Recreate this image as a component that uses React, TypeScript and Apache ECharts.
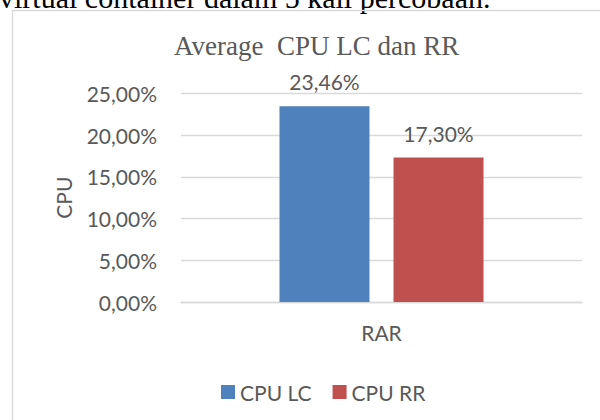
import React, { useEffect, useRef } from "react";
import * as echarts from "echarts";

const categories = ["RAR"];
const seriesNames = ["CPU LC", "CPU RR"];
const cpuLC = [23.46];
const cpuRR = [17.3];
const yMin = 0;
const yMax = 25;
const yInterval = 5;

const FONT = "Lato";
const GRAY = "#595959";
const GRID = "#D9D9D9";

const fmt = (v: number) => v.toFixed(2).replace(".", ",") + "%";

export default function App() {
  const ref = useRef<HTMLDivElement>(null);
  useEffect(() => {
    if (!ref.current) return;
    const chart = echarts.init(ref.current, undefined, { renderer: "svg" });
    chart.setOption({
      animation: false,
      backgroundColor: "#ffffff",
      textStyle: { fontFamily: FONT },
      graphic: [
        {
          type: "text",
          x: -1,
          y: -3,
          style: {
            text: "virtual container dalam 5 kali percobaan.",
            font: "30px 'Liberation Serif'",
            fill: "#000000",
            verticalAlign: "middle",
            align: "left",
          },
        },
        {
          type: "rect",
          shape: { x: 12.5, y: 10.5, width: 700, height: 500 },
          style: { fill: "none", stroke: GRID, lineWidth: 1.3 },
          silent: true,
        },
        {
          type: "text",
          x: 316.7,
          y: 46,
          style: {
            text: "Average  CPU LC dan RR",
            font: "27px 'Liberation Serif'",
            fill: GRAY,
            verticalAlign: "middle",
            align: "center",
          },
        },
      ],
      legend: {
        left: 216,
        top: 376.5,
        itemWidth: 14,
        itemHeight: 14,
        itemGap: 21,
        icon: "rect",
        data: seriesNames,
        textStyle: { fontFamily: FONT, fontSize: 21, color: GRAY, padding: [0, 0, 0, 0] },
      },
      grid: { left: 181, right: 18, top: 93.3, bottom: 118 },
      xAxis: {
        type: "category",
        data: categories,
        axisLine: { show: true, lineStyle: { color: GRID, width: 1.3 } },
        axisTick: { show: false },
        axisLabel: { color: GRAY, fontSize: 21, fontFamily: FONT, margin: 20 },
      },
      yAxis: {
        type: "value",
        min: yMin,
        max: yMax,
        interval: yInterval,
        name: "CPU",
        nameLocation: "middle",
        nameGap: 107,
        nameTextStyle: { color: GRAY, fontSize: 21, fontFamily: FONT },
        axisLine: { show: false },
        axisTick: { show: false },
        splitLine: { lineStyle: { color: GRID, width: 1.3 } },
        axisLabel: {
          color: GRAY,
          fontSize: 21,
          fontFamily: FONT,
          margin: 24,
          formatter: (v: number) => fmt(v),
        },
      },
      series: [
        {
          name: seriesNames[0],
          type: "bar",
          data: cpuLC,
          barWidth: 90,
          barGap: "26.7%",
          itemStyle: { color: "#4F81BD" },
          label: {
            show: true,
            position: "top",
            distance: 14,
            color: GRAY,
            fontSize: 21,
            fontFamily: FONT,
            formatter: (p: any) => fmt(p.value),
          },
        },
        {
          name: seriesNames[1],
          type: "bar",
          data: cpuRR,
          barWidth: 90,
          barGap: "26.7%",
          itemStyle: { color: "#C0504D" },
          label: {
            show: true,
            position: "top",
            distance: 14,
            color: GRAY,
            fontSize: 21,
            fontFamily: FONT,
            formatter: (p: any) => fmt(p.value),
          },
        },
      ],
    });
    return () => chart.dispose();
  }, []);
  return (
    <div
      ref={ref}
      style={{ position: "fixed", left: 0, top: 0, width: 600, height: 420, background: "#fff" }}
    />
  );
}
